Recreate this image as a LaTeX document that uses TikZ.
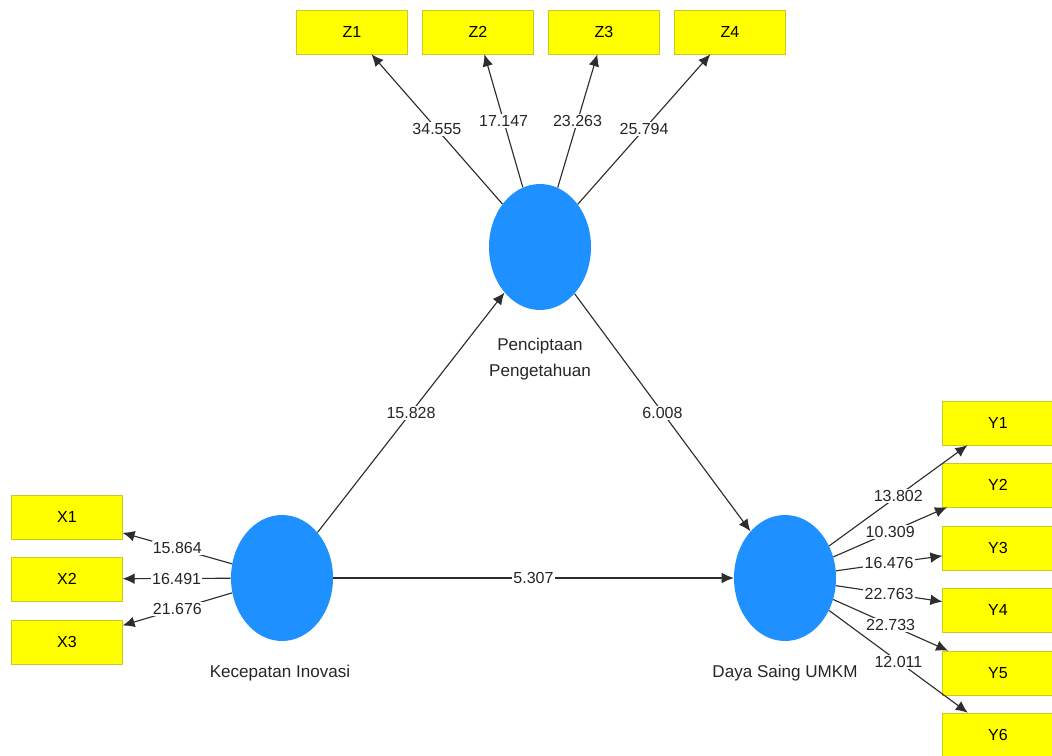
\documentclass[tikz,border=0pt]{standalone}
\usepackage{fontspec}
\setmainfont{Liberation Sans}
\usetikzlibrary{shapes.geometric,arrows.meta}
\definecolor{latentblue}{RGB}{30,144,255}
\definecolor{itemyellow}{RGB}{255,255,0}
\definecolor{itemborder}{RGB}{200,200,40}
\definecolor{linegray}{RGB}{45,45,45}
\begin{document}
\begin{tikzpicture} [
  x=0.75pt, y=-0.75pt,
  every node/.style={font=\fontsize{12}{20}\selectfont},
  latent/.style={ellipse, fill=latentblue, minimum width=76.5pt, minimum height=94.5pt, inner sep=0pt},
  latentname/.style={font=\fontsize{12.8}{20}\selectfont, text=black!85, align=center},
  item/.style={rectangle, fill=itemyellow, draw=itemborder, minimum width=83pt, minimum height=33pt, inner sep=0pt},
  loading/.style={draw=linegray, line width=0.85pt, -{Latex[length=9pt,width=8pt]}},
  coef/.style={fill=white, inner sep=1pt, text=black!85}]
\useasboundingbox (0,0) rectangle (1052,756);
% latent variables
\node[latent] (pp) at (540,247) {};
\node[latentname] (pplab) at (540,359) {Penciptaan\\Pengetahuan};
\node[latent] (ki) at (282,578) {};
\node[latentname] (kilab) at (280,673) {Kecepatan Inovasi};
\node[latent] (ds) at (785,578) {};
\node[latentname] (dslab) at (785,673) {Daya Saing UMKM};
% indicators
\node[item] (z1) at (352,32) {Z1};
\node[item] (z2) at (478,32) {Z2};
\node[item] (z3) at (604,32) {Z3};
\node[item] (z4) at (730,32) {Z4};
\node[item] (x1) at (67,517) {X1};
\node[item] (x2) at (67,579) {X2};
\node[item] (x3) at (67,642) {X3};
\node[item] (y1) at (998,423) {Y1};
\node[item] (y2) at (998,485) {Y2};
\node[item] (y3) at (998,548) {Y3};
\node[item] (y4) at (998,610) {Y4};
\node[item] (y5) at (998,673) {Y5};
\node[item] (y6) at (998,735) {Y6};
% inner model
\draw[loading] (ki) -- node[coef] {15.828} (pp);
\draw[loading] (pp) -- node[coef] {6.008} (ds);
\draw[loading] (ki) -- node[coef] {5.307} (ds);
% outer model
\draw[loading] (pp) -- node[coef] {34.555} (z1);
\draw[loading] (pp) -- node[coef] {17.147} (z2);
\draw[loading] (pp) -- node[coef] {23.263} (z3);
\draw[loading] (pp) -- node[coef] {25.794} (z4);
\draw[loading] (ki) -- node[coef] {15.864} (x1);
\draw[loading] (ki) -- node[coef] {16.491} (x2);
\draw[loading] (ki) -- node[coef] {21.676} (x3);
\draw[loading] (ds) -- node[coef] {13.802} (y1);
\draw[loading] (ds) -- node[coef] {10.309} (y2);
\draw[loading] (ds) -- node[coef] {16.476} (y3);
\draw[loading] (ds) -- node[coef] {22.763} (y4);
\draw[loading] (ds) -- node[coef] {22.733} (y5);
\draw[loading] (ds) -- node[coef] {12.011} (y6);
\end{tikzpicture}
\end{document}
